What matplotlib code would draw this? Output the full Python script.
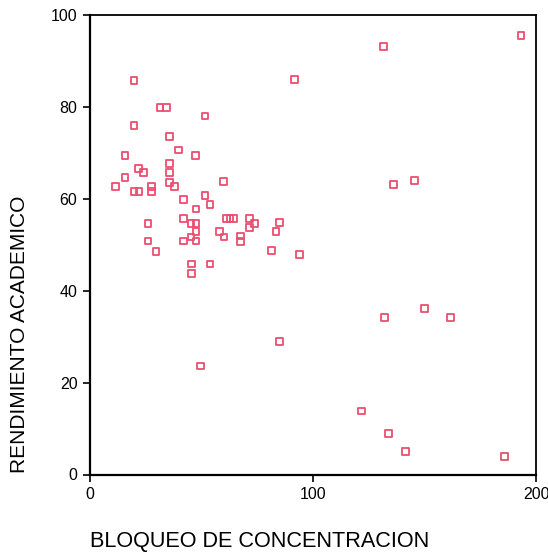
import matplotlib
matplotlib.use("Agg")
import matplotlib.pyplot as plt

plt.rcParams['font.family'] = ['Liberation Sans', 'DejaVu Sans']

bloqueo = [19.7, 31.4, 34.2, 51.6, 19.7, 35.6, 39.8, 15.7, 47.4, 21.8, 24.1,
           35.6, 35.6, 15.7, 35.6, 37.8, 60.0, 11.5, 19.7, 22.0, 27.4, 27.4,
           51.6, 53.8, 42.0, 47.5, 26.0, 42.0, 45.3, 47.5, 47.5, 45.3, 42.0,
           47.5, 26.0, 61.3, 62.8, 64.3, 71.7, 73.8, 71.7, 58.0, 60.1, 67.6,
           67.6, 83.4, 84.8, 29.6, 81.5, 45.6, 53.8, 45.6, 49.6, 84.8,
           193.3, 131.7, 91.6, 136.0, 145.6, 93.9, 149.9, 132.0, 161.6,
           121.7, 134.0, 141.6, 186.0]
rendimiento = [85.8, 79.9, 79.9, 78.0, 75.9, 73.6, 70.6, 69.5, 69.5, 66.6, 65.7,
               67.7, 65.7, 64.7, 63.6, 62.7, 63.7, 62.6, 61.6, 61.6, 62.6, 61.6,
               60.8, 58.8, 59.8, 57.8, 54.7, 55.7, 54.7, 54.7, 52.8, 51.7, 50.8,
               50.8, 50.8, 55.7, 55.7, 55.7, 55.7, 54.7, 53.7, 52.8, 51.7, 51.9,
               50.7, 52.8, 54.8, 48.6, 48.8, 45.8, 45.8, 43.7, 23.6, 28.9,
               95.6, 93.2, 86.0, 63.1, 64.0, 47.8, 36.2, 34.1, 34.1,
               13.8, 8.9, 5.0, 4.0]

x_ticks = [0, 100, 200]
y_ticks = [0, 20, 40, 60, 80, 100]

fig = plt.figure(figsize=(5.48, 5.53), dpi=100)
ax = fig.add_axes([90/548, 78.5/553, 446/548, 459.5/553])

ax.scatter(bloqueo, rendimiento, marker='s', s=24, facecolors='none',
           edgecolors='#ec4f6f', linewidths=1.3, zorder=3)

ax.set_xlim(0, 200)
ax.set_ylim(0, 100)
ax.set_xticks(x_ticks)
ax.set_yticks(y_ticks)
ax.tick_params(axis='both', direction='out', length=5, width=1.2,
               labelsize=11.5, colors='black')
ax.tick_params(axis='x', pad=4)
ax.tick_params(axis='y', pad=4)
for side in ['left', 'bottom']:
    ax.spines[side].set_linewidth(1.6)
for side in ['top', 'right']:
    ax.spines[side].set_linewidth(1.3)

fig.text(90/548, 1 - 541/553, 'BLOQUEO DE CONCENTRACION', fontsize=15.6,
         ha='left', va='center')
fig.text(20/548, 1 - 473/553, 'RENDIMIENTO ACADEMICO', fontsize=15,
         rotation=90, ha='center', va='bottom')

fig.savefig('out.png', dpi=100)
